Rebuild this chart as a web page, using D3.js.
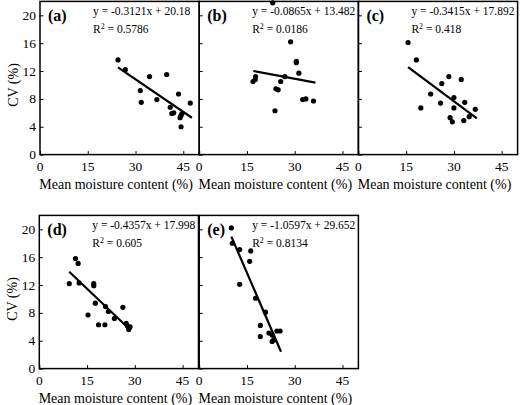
<!DOCTYPE html>
<html><head><meta charset="utf-8">
<script src="https://cdn.jsdelivr.net/npm/d3@7"></script>
<style>
html,body{margin:0;padding:0;background:#fff;}
svg{display:block;}
</style></head>
<body>
<svg id="chart" width="520" height="405" font-family="'Liberation Serif', 'Times New Roman', Times, 'DejaVu Serif', serif"></svg>
<script>
// ---- data ----
const panelLabels = ["(a)", "(b)", "(c)", "(d)", "(e)"];
const xA = [24.5, 26.8, 31.5, 31.8, 34.4, 36.7, 39.8, 40.9, 41.4, 42.0, 43.5, 44.0, 44.3, 44.6, 44.3, 47.2];
const yA = [13.6, 12.2, 9.2, 7.5, 11.2, 7.9, 11.5, 6.8, 5.9, 6.0, 8.7, 5.3, 5.6, 5.9, 4.0, 7.4];
const xB = [23.1, 28.7, 30.5, 30.5, 31.3, 16.9, 17.6, 17.7, 26.9, 25.6, 24.1, 24.8, 23.8, 32.5, 33.5, 35.9];
const yB = [21.8, 16.2, 13.4, 13.2, 11.7, 10.5, 10.8, 11.2, 11.2, 10.5, 9.45, 9.3, 6.3, 7.9, 8.0, 7.7];
const xC = [15.6, 18.2, 28.4, 32.3, 26.2, 22.7, 30.0, 25.8, 33.4, 19.6, 30.0, 36.7, 28.8, 29.5, 33.1, 34.8];
const yC = [16.1, 13.6, 11.2, 10.8, 10.2, 8.7, 8.2, 7.4, 7.5, 6.7, 6.7, 6.5, 5.3, 4.7, 4.9, 5.45];
const xD = [9.4, 11.35, 12.2, 12.5, 17.1, 17.1, 15.3, 17.6, 18.6, 20.6, 20.8, 21.7, 23.6, 26.25, 27.3, 27.7, 28.5, 28.1];
const yD = [12.2, 15.8, 15.1, 12.3, 12.2, 11.9, 7.7, 9.4, 6.3, 6.3, 8.9, 8.2, 7.2, 8.8, 6.5, 6.1, 6.0, 5.6];
const xE = [10.1, 10.4, 12.7, 16.2, 15.85, 12.7, 17.7, 20.8, 19.2, 19.2, 21.9, 22.9, 23.4, 24.4, 25.4, 23.0];
const yE = [20.2, 18.0, 17.1, 16.9, 15.4, 12.1, 10.1, 8.1, 6.2, 4.6, 5.1, 3.9, 4.1, 5.4, 5.4, 4.8];
const slopes = [-0.3121, -0.0865, -0.3415, -0.4357, -1.0597];
const intercepts = [20.18, 13.482, 17.892, 17.998, 29.652];
const eqTexts = ["y = -0.3121x + 20.18", "y = -0.0865x + 13.482", "y = -0.3415x + 17.892", "y = -0.4357x + 17.998", "y = -1.0597x + 29.652"];
const r2Texts = ["0.5786", "0.0186", "0.418", "0.605", "0.8134"];
const lineStart = [24.5, 17.0, 15.6, 9.4, 10.1];
const lineEnd = [47.7, 36.5, 37.2, 28.6, 25.7];
const xTicks = [0, 15, 30, 45];
const yTicks = [0, 4, 8, 12, 16, 20];
const xTitle = "Mean moisture content (%)";
const yTitle = "CV (%)";

const xs = [xA, xB, xC, xD, xE];
const ys = [yA, yB, yC, yD, yE];

// ---- layout ----
const W = 159.2, H = 153.2;
const lefts = [40, 199.2, 358.4, 39.3, 199.2];
const tops = [1.4, 1.4, 1.4, 215.4, 215.4];
const FONT = "'Liberation Serif', 'Times New Roman', Times, 'DejaVu Serif', serif";

const svg = d3.select("#chart");

panelLabels.forEach((lab, i) => {
  const g = svg.append("g").attr("transform", `translate(${lefts[i]},${tops[i]})`)
    .attr("font-family", FONT);
  const x = d3.scaleLinear().domain([0, 50]).range([0, W]);
  const y = d3.scaleLinear().domain([0, 22]).range([H, 0]);

  // inward ticks
  const xAxis = d3.axisTop(x).tickValues(xTicks).tickSize(3.5).tickFormat("");
  const yAxis = d3.axisRight(y).tickValues(yTicks).tickSize(3.5).tickFormat("");
  g.append("g").attr("transform", `translate(0,${H})`).call(xAxis)
    .call(s => s.select(".domain").remove())
    .call(s => s.selectAll("line").attr("stroke", "#000").attr("stroke-width", 1));
  g.append("g").call(yAxis)
    .call(s => s.select(".domain").remove())
    .call(s => s.selectAll("line").attr("stroke", "#000").attr("stroke-width", 1));

  // tick labels
  g.selectAll(".xl").data(xTicks).enter().append("text")
    .attr("font-family", FONT)
    .attr("x", d => x(d)).attr("y", H + 16.5)
    .attr("text-anchor", "middle").attr("font-size", 13.5).text(d => d);
  if (i === 0 || i === 3) {
    g.selectAll(".yl").data(yTicks).enter().append("text")
      .attr("font-family", FONT)
      .attr("x", -4).attr("y", d => y(d) + 4.5)
      .attr("text-anchor", "end").attr("font-size", 13.5).text(d => d);
    g.append("text").attr("font-family", FONT)
      .attr("transform", `translate(${-22},${H / 2 + 7}) rotate(-90)`)
      .attr("text-anchor", "middle").attr("font-size", 14).text(yTitle);
  }
  g.append("text").attr("font-family", FONT).attr("x", W / 2 - 3.5).attr("y", H + 34)
    .attr("text-anchor", "middle").attr("font-size", 14).text(xTitle);

  // points
  const pts = xs[i].map((v, k) => [v, ys[i][k]]);
  g.selectAll("circle").data(pts).enter().append("circle")
    .attr("cx", d => x(d[0])).attr("cy", d => y(d[1])).attr("r", 2.6).attr("fill", "#000");

  // regression line
  const lp = [lineStart[i], lineEnd[i]].map(v => [v, slopes[i] * v + intercepts[i]]);
  g.append("path").attr("d", d3.line().x(d => x(d[0])).y(d => y(d[1]))(lp))
    .attr("stroke", "#000").attr("stroke-width", 2.2).attr("fill", "none");

  // frame
  g.append("rect").attr("x", 0).attr("y", 0).attr("width", W).attr("height", H)
    .attr("fill", "none").attr("stroke", "#000").attr("stroke-width", 1.5);

  // labels
  g.append("text").attr("font-family", FONT).attr("x", 8).attr("y", 19.5).attr("font-size", 16)
    .attr("font-weight", "bold").text(lab);
  g.append("text").attr("font-family", FONT).attr("x", 53).attr("y", 14).attr("font-size", 11.5).text(eqTexts[i]);
  const r = g.append("text").attr("font-family", FONT).attr("x", 53).attr("y", 31.5).attr("font-size", 11.5);
  r.append("tspan").text("R");
  r.append("tspan").attr("dy", -4).attr("font-size", 8).text("2");
  r.append("tspan").attr("dy", 4).text(" = " + r2Texts[i]);
});
</script>
</body></html>
